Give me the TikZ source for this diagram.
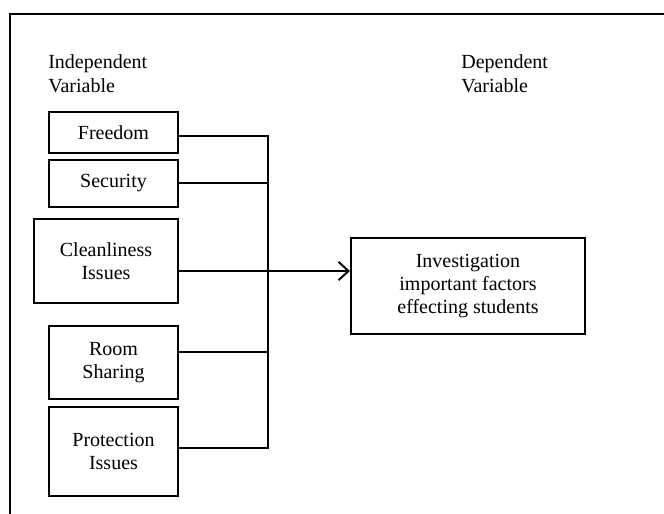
\documentclass[tikz,border=0pt]{standalone}
\usepackage{fontspec}
\setmainfont{Liberation Serif}
\usetikzlibrary{arrows.meta}

\tikzset{
  varbox/.style={draw, line width=1.2pt, align=center, inner sep=0pt,
    font=\fontsize{12}{14}\selectfont},
  heading/.style={anchor=north west, align=left, inner sep=0pt,
    font=\fontsize{12}{14.6}\selectfont},
  wire/.style={line width=1pt},
}

\begin{document}
\begin{tikzpicture}[x=0.6pt, y=-0.6pt]
   % Sizes
   \pgfmathsetmacro{\px}{0.6pt}
   \pgfmathsetmacro{\boxw}{129*\px}
   \useasboundingbox (0,0) rectangle (664,514);

   % frame
   \draw[line width=1.2pt] (10,514) -- (10,14) -- (664,14);

   % headings
   \node[heading] (indep) at (48,54) {Independent\\Variable};
   \node[heading] (dep) at (461,54) {Dependent\\Variable};

   % boxes
   \node[varbox, minimum width=\boxw, minimum height=41*\px] (freedom) at (113.5,132.5) {Freedom};
   \node[varbox, minimum width=\boxw, minimum height=47*\px] (security) at (113.5,183.5) {Security};
   \node[varbox, minimum width=144*\px, minimum height=84*\px] (clean) at (106,261) {Cleanliness\\Issues};
   \node[varbox, minimum width=\boxw, minimum height=73*\px] (room) at (113.5,362.5) {Room\\Sharing};
   \node[varbox, minimum width=\boxw, minimum height=89*\px] (protect) at (113.5,451.5) {Protection\\Issues};
   \node[varbox, minimum width=234*\px, minimum height=96*\px] (invest) at (468,286)
     {Investigation\\important factors\\effecting students};

   % taps on the bus
   \coordinate (t1) at (268,136);
   \coordinate (t2) at (268,183);
   \coordinate (t3) at (268,271);
   \coordinate (t4) at (268,352);
   \coordinate (t5) at (268,448);

   % draw diagram
   \draw[wire] (freedom.east |- t1) -- (t1) -- (t5) -- (protect.east |- t5);
   \draw[wire] (security.east |- t2) -- (t2);
   \draw[wire] (room.east |- t4) -- (t4);
   \draw[wire, -{Straight Barb[length=6pt, width=11pt, line width=1.2pt]}]
     (clean.east |- t3) -- (invest.west |- t3);
\end{tikzpicture}
\end{document}
